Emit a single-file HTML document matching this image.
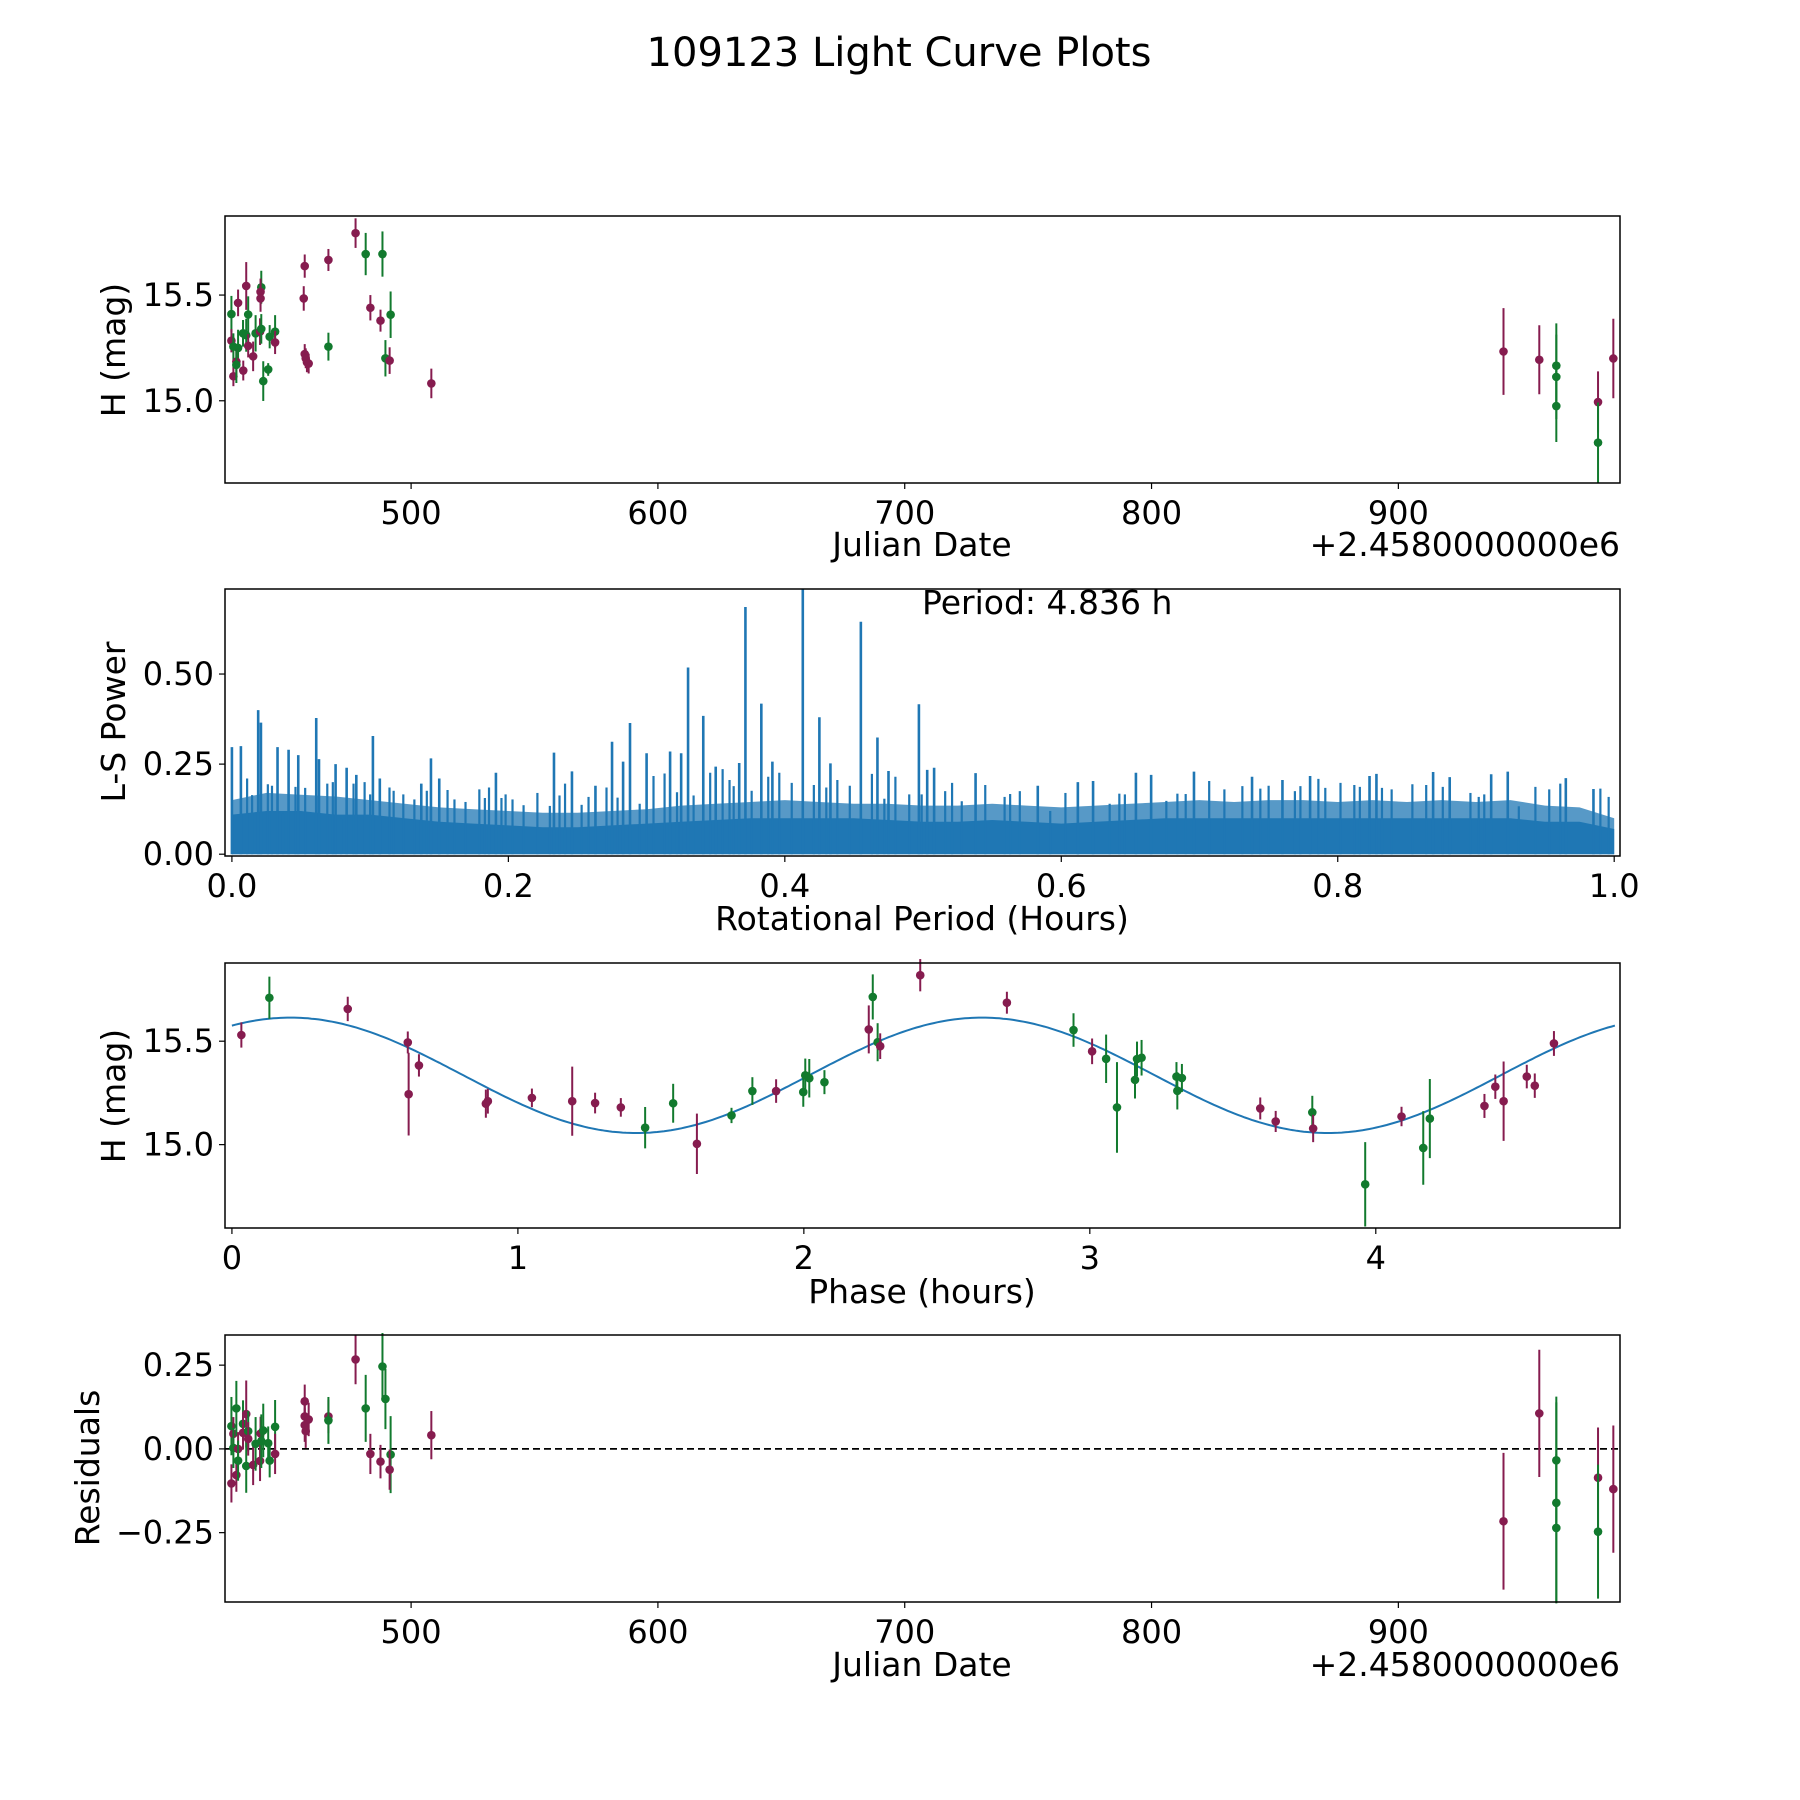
<!DOCTYPE html>
<html><head><meta charset="utf-8"><title>109123 Light Curve Plots</title>
<style>
html,body{margin:0;padding:0;background:#fff;}
svg{display:block;font-family:"DejaVu Sans","Liberation Sans",sans-serif;}
</style></head>
<body>
<svg id="fig" width="1800" height="1800" viewBox="0 0 1800 1800" xmlns="http://www.w3.org/2000/svg">
<rect x="0" y="0" width="1800" height="1800" fill="#fff"/>
<text x="899" y="66" font-size="40" text-anchor="middle" fill="#000">109123 Light Curve Plots</text>
</svg>
<script>
// ---------- data ----------
const magColor = "#861c4f";
const grnColor = "#127a2e";
// Panel 1: raw light curve (JD - 2458000)
const lcDates = [427.2,427.2,428,428,429.9,429.9,429.2,429.2,432,431.9,433.2,433.2,434,434,436,437,439.3,439,439,438.8,439.3,440.1,442.1,442.7,444.9,444.9,456.9,456.5,456.9,457.3,457.8,458.5,466.5,466.5,477.5,481.6,488.4,483.5,487.6,491.7,489.6,491.3,508.2,942.6,957.1,964,964,964,980.9,980.9,987.1];
const lcMags = [15.41,15.284,15.116,15.256,15.25,15.463,15.185,15.17,15.143,15.319,15.31,15.543,15.408,15.26,15.21,15.319,15.537,15.515,15.484,15.327,15.34,15.093,15.148,15.303,15.327,15.276,15.637,15.484,15.221,15.201,15.182,15.176,15.666,15.256,15.793,15.694,15.694,15.44,15.379,15.407,15.201,15.19,15.082,15.233,15.194,15.166,15.113,14.975,14.994,14.802,15.2];
const lcErrs = [0.086,0.055,0.047,0.063,0.086,0.063,0.063,0.086,0.047,0.063,0.078,0.113,0.086,0.055,0.07,0.086,0.078,0.063,0.063,0.063,0.07,0.094,0.03,0.055,0.078,0.055,0.055,0.058,0.047,0.047,0.047,0.047,0.052,0.066,0.07,0.1,0.107,0.06,0.052,0.11,0.086,0.063,0.07,0.205,0.163,0.2,0.2,0.17,0.145,0.19,0.188];
const lcFilters = ["g","m","m","g","g","m","m","g","m","g","g","m","g","m","m","g","g","m","m","m","g","g","g","g","g","m","m","m","m","m","m","m","m","g","m","g","g","m","m","g","g","m","m","m","m","g","g","g","m","g","m"];

// Panel 2: Lomb-Scargle periodogram
const lsBaseX = [0,0.025,0.05,0.075,0.1,0.125,0.15,0.175,0.2,0.225,0.25,0.275,0.3,0.325,0.35,0.375,0.4,0.425,0.45,0.475,0.5,0.525,0.55,0.575,0.6,0.625,0.65,0.675,0.7,0.725,0.75,0.775,0.8,0.825,0.85,0.875,0.9,0.925,0.95,0.975,1.0];
const lsBaseY = [0.11,0.12,0.12,0.11,0.11,0.1,0.09,0.085,0.08,0.075,0.075,0.08,0.085,0.09,0.095,0.1,0.1,0.1,0.1,0.095,0.09,0.09,0.095,0.09,0.085,0.09,0.095,0.1,0.1,0.1,0.1,0.1,0.1,0.1,0.1,0.1,0.1,0.1,0.09,0.09,0.07];
const lsMidY = [0.15,0.17,0.165,0.16,0.15,0.14,0.13,0.125,0.12,0.115,0.115,0.12,0.125,0.135,0.14,0.145,0.15,0.145,0.14,0.14,0.135,0.135,0.14,0.135,0.13,0.135,0.14,0.145,0.15,0.145,0.15,0.15,0.145,0.15,0.145,0.15,0.145,0.15,0.135,0.13,0.1];
const lsSpikeX = [0.0,0.0065,0.019,0.021,0.033,0.041,0.048,0.061,0.063,0.075,0.083,0.09,0.102,0.107,0.137,0.144,0.15,0.191,0.233,0.246,0.263,0.275,0.283,0.288,0.3,0.317,0.325,0.33,0.341,0.35,0.367,0.3715,0.383,0.391,0.413,0.425,0.433,0.455,0.467,0.475,0.497,0.503,0.508,0.538,0.583,0.612,0.623,0.654,0.665,0.696,0.738,0.76,0.78,0.823,0.828,0.869,0.881,0.911,0.923,0.965,0.985];
const lsSpikeY = [0.297,0.30,0.40,0.365,0.297,0.29,0.275,0.378,0.264,0.25,0.24,0.22,0.328,0.21,0.196,0.266,0.21,0.226,0.282,0.23,0.19,0.312,0.257,0.364,0.28,0.285,0.28,0.518,0.384,0.243,0.253,0.686,0.418,0.257,0.745,0.38,0.252,0.645,0.324,0.231,0.416,0.234,0.24,0.225,0.19,0.2,0.203,0.226,0.22,0.229,0.215,0.206,0.217,0.217,0.223,0.228,0.214,0.222,0.229,0.211,0.181];
const lsMinorX = [0.011,0.0146,0.026,0.029,0.037,0.046,0.053,0.069,0.073,0.079,0.088,0.096,0.1,0.114,0.117,0.124,0.132,0.141,0.156,0.161,0.169,0.179,0.183,0.186,0.195,0.198,0.203,0.211,0.221,0.23,0.237,0.241,0.253,0.258,0.271,0.279,0.295,0.305,0.313,0.322,0.334,0.346,0.355,0.36,0.363,0.376,0.388,0.396,0.405,0.421,0.43,0.438,0.447,0.463,0.472,0.48,0.49,0.499,0.516,0.521,0.528,0.545,0.559,0.563,0.57,0.592,0.603,0.612,0.635,0.642,0.646,0.676,0.684,0.69,0.707,0.718,0.731,0.744,0.75,0.769,0.773,0.786,0.791,0.802,0.812,0.816,0.832,0.839,0.854,0.864,0.876,0.896,0.902,0.906,0.931,0.943,0.953,0.961,0.99,0.996];
const lsMinorY = [0.21,0.164,0.194,0.19,0.112,0.187,0.184,0.196,0.2,0.098,0.196,0.2,0.166,0.185,0.176,0.166,0.152,0.176,0.178,0.152,0.145,0.18,0.156,0.185,0.156,0.166,0.152,0.136,0.17,0.134,0.163,0.196,0.137,0.159,0.185,0.157,0.14,0.217,0.224,0.172,0.163,0.226,0.236,0.206,0.189,0.176,0.215,0.226,0.198,0.192,0.185,0.206,0.19,0.223,0.154,0.215,0.166,0.166,0.175,0.198,0.147,0.192,0.159,0.167,0.175,0.12,0.17,0.199,0.14,0.168,0.166,0.148,0.168,0.167,0.203,0.18,0.189,0.182,0.19,0.175,0.189,0.209,0.184,0.198,0.192,0.187,0.184,0.18,0.194,0.192,0.187,0.17,0.159,0.166,0.133,0.187,0.18,0.196,0.182,0.159];

// Panel 3: phased light curve
const phPhases = [0.033,0.131,0.405,0.615,0.618,0.654,0.888,0.895,1.049,1.19,1.27,1.36,1.445,1.543,1.626,1.747,1.82,1.903,1.998,2.005,2.019,2.072,2.227,2.241,2.258,2.267,2.407,2.71,2.943,3.008,3.057,3.095,3.158,3.165,3.181,3.303,3.306,3.322,3.596,3.65,3.778,3.781,3.963,4.09,4.166,4.189,4.38,4.418,4.447,4.528,4.556,4.623];
const phMags = [15.53,15.71,15.656,15.494,15.244,15.383,15.198,15.21,15.226,15.21,15.201,15.18,15.082,15.2,15.004,15.141,15.259,15.259,15.254,15.335,15.321,15.302,15.557,15.714,15.495,15.476,15.819,15.686,15.554,15.451,15.415,15.18,15.313,15.414,15.42,15.329,15.26,15.322,15.175,15.112,15.156,15.078,14.808,15.136,14.984,15.126,15.187,15.28,15.21,15.329,15.285,15.489];
const phErrs = [0.061,0.102,0.059,0.053,0.2,0.054,0.068,0.06,0.045,0.167,0.05,0.045,0.1,0.094,0.146,0.037,0.067,0.057,0.071,0.081,0.093,0.058,0.116,0.109,0.092,0.062,0.078,0.053,0.081,0.062,0.117,0.219,0.09,0.084,0.086,0.07,0.09,0.068,0.053,0.051,0.08,0.066,0.204,0.047,0.178,0.191,0.058,0.059,0.192,0.057,0.059,0.06];
const phFilters = ["m","g","m","m","m","m","m","m","m","m","m","m","g","g","m","g","g","m","g","g","g","g","m","g","g","m","m","m","g","m","g","g","g","g","g","g","g","g","m","m","g","m","g","m","g","g","m","m","m","m","m","m"];
// model: mean, amplitude, period (h), phase of max (h)
const modelMean = 15.335, modelAmp = 0.279, modelPeriod = 2.418, modelPeak = 0.205;

// Panel 4: residuals
const resDates = [427.2,427.2,428,428,429.2,429.2,429.9,429.9,431.9,431.9,433.2,433.2,434,434,436,437,439,438.8,439.3,440.1,442.1,442.7,444.9,444.9,456.9,456.9,456.9,457.3,458.5,466.5,466.5,477.5,481.6,483.5,487.6,488.4,489.6,491.7,491.3,508.2,942.6,957.1,964,964,964,980.9,980.9,987.1];
const resVals = [0.068,-0.103,0.045,0.003,0.121,-0.078,0,-0.035,0.075,0.048,0.104,-0.051,0.053,0.03,-0.048,0.015,0.046,-0.036,0.023,0.055,0.017,-0.035,0.066,-0.015,0.142,0.097,0.071,0.053,0.088,0.097,0.085,0.267,0.121,-0.015,-0.038,0.246,0.149,-0.017,-0.062,0.041,-0.216,0.106,-0.034,-0.161,-0.236,-0.086,-0.247,-0.12];
const resErrs = [0.087,0.057,0.05,0.06,0.082,0.05,0.05,0.06,0.07,0.05,0.1,0.08,0.06,0.05,0.06,0.08,0.05,0.06,0.08,0.08,0.05,0.05,0.08,0.06,0.05,0.05,0.05,0.05,0.05,0.05,0.07,0.074,0.1,0.06,0.05,0.1,0.09,0.115,0.06,0.072,0.204,0.19,0.19,0.3,0.22,0.15,0.2,0.19];
const resFilters = ["g","m","m","g","g","m","m","g","g","m","m","g","g","m","m","g","m","m","g","g","g","g","g","m","m","m","m","m","m","m","g","m","g","m","m","g","g","g","m","m","m","m","g","g","g","m","g","m"];

const jdTicks = [500,600,700,800,900];
const magTicks = [15.0,15.5];
const lsXTicks = [0.0,0.2,0.4,0.6,0.8,1.0];
const lsYTicks = [0.0,0.25,0.5];
const phTicks = [0,1,2,3,4];
const resTicks = [-0.25,0,0.25];

// ---------- drawing ----------
const svg = document.getElementById('fig');
const NS = "http://www.w3.org/2000/svg";
function mk(tag, attrs){const e=document.createElementNS(NS,tag);for(const k in attrs)e.setAttribute(k,attrs[k]);svg.appendChild(e);return e;}
const L=225,R=1620;
const panels = [
 {top:216,bot:483,x0:424.6,x1:989.8,y0:14.611,y1:15.874},
 {top:589,bot:856,x0:-0.005,x1:1.0042,y0:-0.005,y1:0.736},
 {top:963,bot:1228,x0:-0.0242,x1:4.854,y0:14.597,y1:15.878},
 {top:1335,bot:1602,x0:424.6,x1:989.8,y0:-0.457,y1:0.34}
];
function sx(p,v){return L+(v-p.x0)/(p.x1-p.x0)*(R-L);}
function sy(p,v){return p.bot-(v-p.y0)/(p.y1-p.y0)*(p.bot-p.top);}
function fmt(v,d){const s=v.toFixed(d);return v<0?'\u2212'+s.slice(1):s;}

function frame(p,name){
  const r=mk('rect',{x:L,y:p.top,width:R-L,height:p.bot-p.top,fill:'none',stroke:'#000','stroke-width':1.5});
  
  
}
function xticks(p,ticks,dec,name){
  ticks.forEach(t=>{const x=sx(p,t);
    const l=mk('line',{x1:x,x2:x,y1:p.bot,y2:p.bot+6,stroke:'#000','stroke-width':1.2});
    
    
    const tx=mk('text',{x:x,y:p.bot+41,'font-size':32,'text-anchor':'middle'});tx.textContent=fmt(t,dec);
    
    
  });
}
function yticks(p,ticks,dec,name){
  ticks.forEach(t=>{const y=sy(p,t);
    const l=mk('line',{x1:L-6,x2:L,y1:y,y2:y,stroke:'#000','stroke-width':1.2});
    
    
    const tx=mk('text',{x:L-11,y:y+11,'font-size':32,'text-anchor':'end'});tx.textContent=fmt(t,dec);
    
    
  });
}
function label(x,y,txt,rot,name,anchor){
  const t=mk('text',{x:x,y:y,'font-size':33,'text-anchor':anchor||'middle'});
  if(rot)t.setAttribute('transform','rotate(-90 '+x+' '+y+')');
  t.textContent=txt;
  
  
}
function points(p,xs,ys,es,fs,name){
  for(let i=0;i<xs.length;i++){
    const c=fs[i]==='g'?grnColor:magColor;const x=sx(p,xs[i]);
    const l=mk('line',{x1:x,x2:x,y1:sy(p,ys[i]-es[i]),y2:sy(p,ys[i]+es[i]),stroke:c,'stroke-width':2});
    
    
    const d=mk('circle',{cx:x,cy:sy(p,ys[i]),r:4.3,fill:c});
    
    
  }
}

// Panel 1
let p=panels[0];
points(p,lcDates,lcMags,lcErrs,lcFilters,'light-curve');
frame(p,'light-curve');
xticks(p,jdTicks,0,'light-curve');yticks(p,magTicks,1,'light-curve');
label(922,556,'Julian Date',false,'light-curve-x-title');
label(R,556,'+2.4580000000e6',false,'light-curve-offset-text','end');
label(125,350,'H (mag)',true,'light-curve-y-title');

// Panel 2
p=panels[1];
let d2='M'+sx(p,lsBaseX[0])+' '+sy(p,0);
for(let i=0;i<lsBaseX.length;i++){d2+=' L'+sx(p,lsBaseX[i]).toFixed(1)+' '+sy(p,lsMidY[i]).toFixed(1);}
d2+=' L'+sx(p,lsBaseX[lsBaseX.length-1])+' '+sy(p,0)+' Z';
const mid=mk('path',{d:d2,fill:'#1f77b4','fill-opacity':0.75});


let d='M'+sx(p,lsBaseX[0])+' '+sy(p,0);
for(let i=0;i<lsBaseX.length;i++){d+=' L'+sx(p,lsBaseX[i]).toFixed(1)+' '+sy(p,lsBaseY[i]).toFixed(1);}
d+=' L'+sx(p,lsBaseX[lsBaseX.length-1])+' '+sy(p,0)+' Z';
const base=mk('path',{d:d,fill:'#1f77b4'});


for(let i=0;i<lsMinorX.length;i++){const x=sx(p,lsMinorX[i]);
  const s=mk('line',{x1:x,x2:x,y1:sy(p,0),y2:sy(p,lsMinorY[i]),stroke:'#1f77b4','stroke-width':2.2});
  
  
}
for(let i=0;i<lsSpikeX.length;i++){const x=sx(p,lsSpikeX[i]);
  const s=mk('line',{x1:x,x2:x,y1:sy(p,0),y2:Math.max(p.top,sy(p,lsSpikeY[i])),stroke:'#1f77b4','stroke-width':2.6});
  
  
}
frame(p,'periodogram');
xticks(p,lsXTicks,1,'periodogram');yticks(p,lsYTicks,2,'periodogram');
label(922,930,'Rotational Period (Hours)',false,'periodogram-x-title');
label(125,722,'L-S Power',true,'periodogram-y-title');
const pt=mk('text',{x:922,y:614,'font-size':33,'text-anchor':'start'});pt.textContent='Period: 4.836 h';



// Panel 3
p=panels[2];
let dm='';
for(let k=0;k<=400;k++){const ph=4.836*k/400;const m=modelMean+modelAmp*Math.cos(2*Math.PI*(ph-modelPeak)/modelPeriod);
  dm+=(k?' L':'M')+sx(p,ph).toFixed(1)+' '+sy(p,m).toFixed(1);}
const curve=mk('path',{d:dm,fill:'none',stroke:'#1f77b4','stroke-width':2});


points(p,phPhases,phMags,phErrs,phFilters,'phased');
frame(p,'phased');
xticks(p,phTicks,0,'phased');yticks(p,magTicks,1,'phased');
label(922,1303,'Phase (hours)',false,'phased-x-title');
label(125,1096,'H (mag)',true,'phased-y-title');

// Panel 4
p=panels[3];
const zl=mk('line',{x1:L,x2:R,y1:sy(p,0),y2:sy(p,0),stroke:'#000','stroke-width':1.8,'stroke-dasharray':'7,4'});


points(p,resDates,resVals,resErrs,resFilters,'residual');
frame(p,'residuals');
xticks(p,jdTicks,0,'residuals');yticks(p,resTicks,2,'residuals');
label(922,1676,'Julian Date',false,'residuals-x-title');
label(R,1676,'+2.4580000000e6',false,'residuals-offset-text','end');
label(99,1468,'Residuals',true,'residuals-y-title');
</script>
</body></html>
